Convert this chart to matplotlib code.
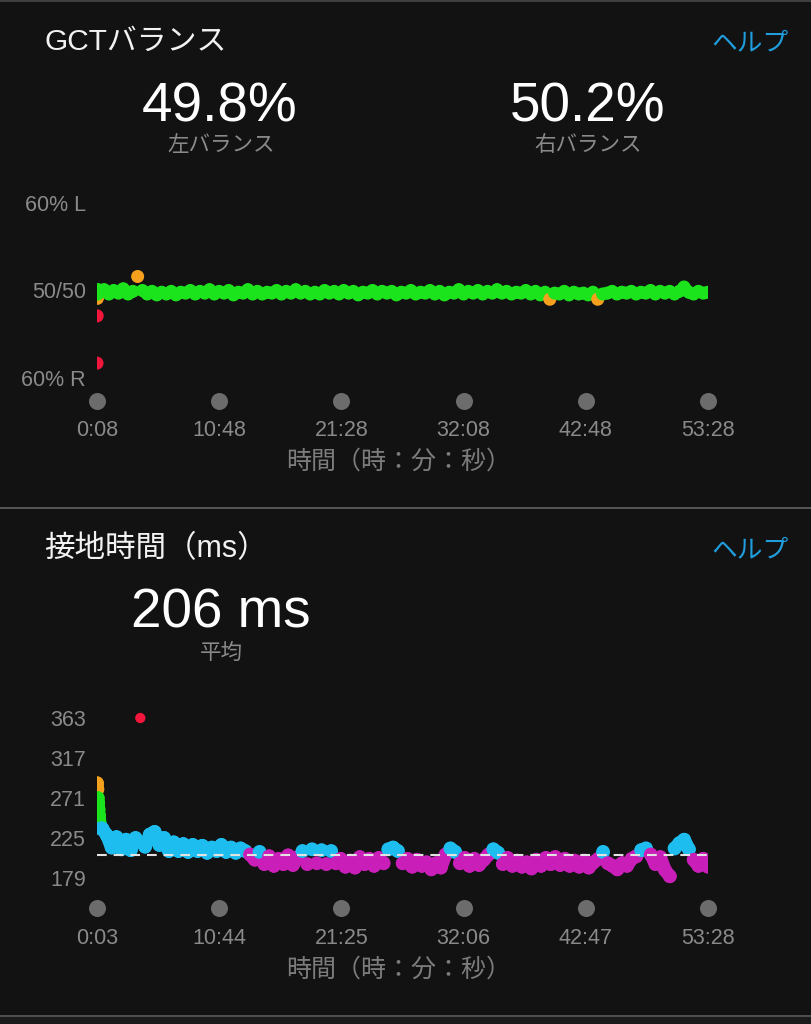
import numpy as np
import matplotlib
matplotlib.use("Agg")
import matplotlib.pyplot as plt
import matplotlib.transforms as mtransforms
from matplotlib.lines import Line2D
from matplotlib.collections import LineCollection

plt.rcParams['font.family'] = ['Liberation Sans', 'Noto Sans CJK JP']
plt.rcParams['lines.scale_dashes'] = False

# ---------------- data ----------------
# GCT balance (left %), time in seconds
balance_early_t = [8, 9, 10, 12, 14, 16]
balance_early_v = [41.7, 47.1, 49.1, 49.6, 50.1, 49.8]
balance_grid_start, balance_grid_end = 20, 3208
balance_values = [
    49.9, 50.1, 49.6, 50.0, 49.7, 50.2, 49.6, 49.9, 51.6, 50.0,
    49.6, 49.9, 49.5, 49.8, 49.6, 49.9, 49.5, 49.8, 49.7, 50.0,
    49.6, 49.9, 49.7, 50.1, 49.6, 49.9, 49.7, 50.0, 49.5, 49.8,
    49.7, 50.1, 49.6, 49.9, 49.6, 49.8, 49.7, 50.0, 49.6, 49.9,
    49.7, 50.1, 49.7, 49.9, 49.6, 49.8, 49.6, 50.0, 49.7, 49.9,
    49.6, 50.0, 49.7, 49.9, 49.5, 49.8, 49.7, 50.0, 49.6, 49.9,
    49.7, 49.9, 49.5, 49.8, 49.7, 50.0, 49.6, 49.8, 49.7, 50.0,
    49.6, 49.9, 49.5, 49.8, 49.7, 50.1, 49.6, 49.9, 49.7, 50.0,
    49.6, 49.9, 49.7, 50.1, 49.7, 49.9, 49.6, 49.8, 49.7, 50.0,
    49.6, 49.9, 49.5, 49.8, 49.0, 49.7, 49.6, 49.9, 49.5, 49.8,
    49.6, 49.7, 49.5, 49.8, 49.0, 49.6, 49.7, 49.9, 49.6, 49.8,
    49.7, 49.9, 49.6, 49.8, 49.7, 50.0, 49.6, 49.9, 49.7, 49.9,
    49.6, 49.9, 50.4, 49.8, 49.6, 49.9, 49.7, 49.8,
]
balance_ticks = [8, 648, 1288, 1928, 2568, 3208]
balance_tick_labels = ["0:08", "10:48", "21:28", "32:08", "42:48", "53:28"]
balance_ylabels = ["60% R", "50/50", "60% L"]
balance_yticks = [40, 50, 60]

# Ground contact time (ms)
gct_early_t = [3, 5, 7, 9, 11, 13, 15, 18, 21]
gct_early_v = [288, 281, 271, 265, 258, 251, 245, 241, 236]
gct_grid_start, gct_grid_end = 30, 3208
gct_values = [
    236, 228, 214, 226, 212, 223, 211, 225, 363, 215,
    229, 232, 217, 225, 210, 220, 210, 218, 209, 217,
    210, 216, 208, 214, 210, 217, 209, 214, 208, 213,
    210, 206, 200, 209, 195, 204, 193, 201, 195, 205,
    194, 203, 210, 195, 212, 196, 211, 195, 210, 196,
    201, 192, 199, 191, 203, 195, 201, 193, 202, 196,
    212, 214, 210, 196, 201, 192, 200, 193, 197, 189,
    196, 191, 206, 213, 209, 196, 202, 193, 201, 194,
    200, 206, 212, 208, 195, 202, 193, 199, 192, 197,
    190, 200, 193, 202, 195, 203, 194, 201, 193, 199,
    192, 199, 191, 197, 201, 209, 196, 193, 189, 196,
    193, 201, 204, 211, 213, 206, 195, 203, 188, 181,
    213, 219, 223, 212, 200, 193, 201, 192,
]
gct_average = 206
gct_ticks = [3, 644, 1285, 1926, 2567, 3208]
gct_tick_labels = ["0:03", "10:44", "21:25", "32:06", "42:47", "53:28"]
gct_yticks = [179, 225, 271, 317, 363]

# ---------------- styles ----------------
BG = '#121212'
GREEN = '#1ce41c'
ORANGE = '#f5a11e'
RED = '#f0163c'
BLUE = '#1ebdef'
PURPLE = '#c91fb8'
TICKDOT = '#6c6c6c'
LABEL = '#8a8a8a'
HELP = '#1f9ddd'


def balance_color(v):
    d = abs(v - 50)
    if d < 0.75:
        return GREEN
    if d < 2.25:
        return ORANGE
    return RED


def gct_color(v):
    if v < 208:
        return PURPLE
    if v <= 240:
        return BLUE
    if v <= 272:
        return GREEN
    if v <= 305:
        return ORANGE
    return RED


W, H = 811, 1024
fig = plt.figure(figsize=(W / 100, H / 100), dpi=100, facecolor=BG)


def fx(px):
    return px / W


def fy(py):
    return 1 - py / H


def txt(x, y, s, **kw):
    fig.text(fx(x), fy(y), s, **kw)


# borders
for y, c, lw in [(1, '#3e3e3e', 2), (508, '#555555', 2), (1016, '#4e4e4e', 2)]:
    fig.add_artist(Line2D([0, 1], [fy(y), fy(y)], color=c, lw=lw * 0.72,
                          transform=fig.transFigure))
fig.add_artist(plt.Rectangle((0, 0), 1, fy(1017), color='#1b1b1b',
                             transform=fig.transFigure, zorder=-1))

# ---------------- header texts ----------------
txt(44, 50, "GCTバランス", color='#f2f2f2', fontsize=21.5, ha='left', va='baseline')
txt(789, 50, "ヘルプ", color=HELP, fontsize=18.5, ha='right', va='baseline')
txt(220, 122, "49.8%", color='white', fontsize=39.5, ha='center', va='baseline')
txt(221, 151, "左バランス", color=LABEL, fontsize=15.5, ha='center', va='baseline')
txt(588, 122, "50.2%", color='white', fontsize=39.5, ha='center', va='baseline')
txt(588, 151, "右バランス", color=LABEL, fontsize=15.5, ha='center', va='baseline')

txt(44, 557, "接地時間（ms）", color='#f2f2f2', fontsize=22, ha='left', va='baseline')
txt(789, 557, "ヘルプ", color=HELP, fontsize=18.5, ha='right', va='baseline')
txt(221, 628, "206 ms", color='white', fontsize=39.5, ha='center', va='baseline')
txt(221, 659, "平均", color=LABEL, fontsize=15.5, ha='center', va='baseline')


def style_axes(ax):
    ax.set_facecolor('none')
    for sp in ax.spines.values():
        sp.set_visible(False)
    ax.tick_params(axis='both', length=0, labelcolor=LABEL, labelsize=15.5)


def draw_series(ax, t, v, colors, sizes, band_lw):
    segs, segc = [], []
    for i in range(len(t) - 1):
        if colors[i] == colors[i + 1] and colors[i] != RED:
            segs.append([(t[i], v[i]), (t[i + 1], v[i + 1])])
            segc.append(colors[i])
    lc = LineCollection(segs, colors=segc, linewidths=band_lw, capstyle='round',
                        joinstyle='round', zorder=2)
    ax.add_collection(lc)
    ax.scatter(t, v, s=sizes, c=colors, linewidths=0, zorder=3)


# ---------------- chart 1 : GCT balance ----------------
ax1 = fig.add_axes([fx(97), fy(378), fx(708) - fx(97), (378 - 203) / H])
style_axes(ax1)
b_t = np.concatenate([balance_early_t,
                      np.linspace(balance_grid_start, balance_grid_end, len(balance_values))])
b_v = np.concatenate([balance_early_v, balance_values])
draw_series(ax1, b_t, b_v, [balance_color(v) for v in b_v], 88, 8.6)
ax1.set_xlim(balance_ticks[0], balance_ticks[-1])
ax1.set_ylim(40, 60)
ax1.set_yticks(balance_yticks, balance_ylabels)
ax1.set_xticks(balance_ticks, balance_tick_labels)
ax1.tick_params(axis='y', pad=8)
ax1.tick_params(axis='x', pad=30)
tr1 = mtransforms.blended_transform_factory(ax1.transData, fig.transFigure)
ax1.scatter(balance_ticks, [fy(401)] * len(balance_ticks), s=150, color=TICKDOT,
            linewidths=0, transform=tr1, clip_on=False)
txt(399, 469, "時間（時：分：秒）", color='#7c7c7c', fontsize=18, ha='center', va='baseline')

# ---------------- chart 2 : ground contact time ----------------
top_px, bot_px = 700, 890
v_per_px = (363 - 179) / (878 - 718)
ymax = 363 + (718 - top_px) * v_per_px
ymin = 179 - (bot_px - 878) * v_per_px
ax2 = fig.add_axes([fx(97), fy(bot_px), fx(708) - fx(97), (bot_px - top_px) / H])
style_axes(ax2)
g_t = np.concatenate([gct_early_t,
                      np.linspace(gct_grid_start, gct_grid_end, len(gct_values))])
g_v = np.concatenate([gct_early_v, gct_values])
sizes = [55 if v > 305 else 100 for v in g_v]
draw_series(ax2, g_t, g_v, [gct_color(v) for v in g_v], sizes, 9.6)
ax2.axhline(gct_average, color='#e2e2e2', lw=1.5, dashes=(7, 5), zorder=4)
ax2.set_xlim(gct_ticks[0], gct_ticks[-1])
ax2.set_ylim(ymin, ymax)
ax2.set_yticks(gct_yticks, [str(v) for v in gct_yticks])
ax2.set_xticks(gct_ticks, gct_tick_labels)
ax2.tick_params(axis='y', pad=8)
ax2.tick_params(axis='x', pad=27)
tr2 = mtransforms.blended_transform_factory(ax2.transData, fig.transFigure)
ax2.scatter(gct_ticks, [fy(908)] * len(gct_ticks), s=150, color=TICKDOT,
            linewidths=0, transform=tr2, clip_on=False)
txt(399, 977, "時間（時：分：秒）", color='#7c7c7c', fontsize=18, ha='center', va='baseline')

fig.savefig("out.png", dpi=100, facecolor=BG)
